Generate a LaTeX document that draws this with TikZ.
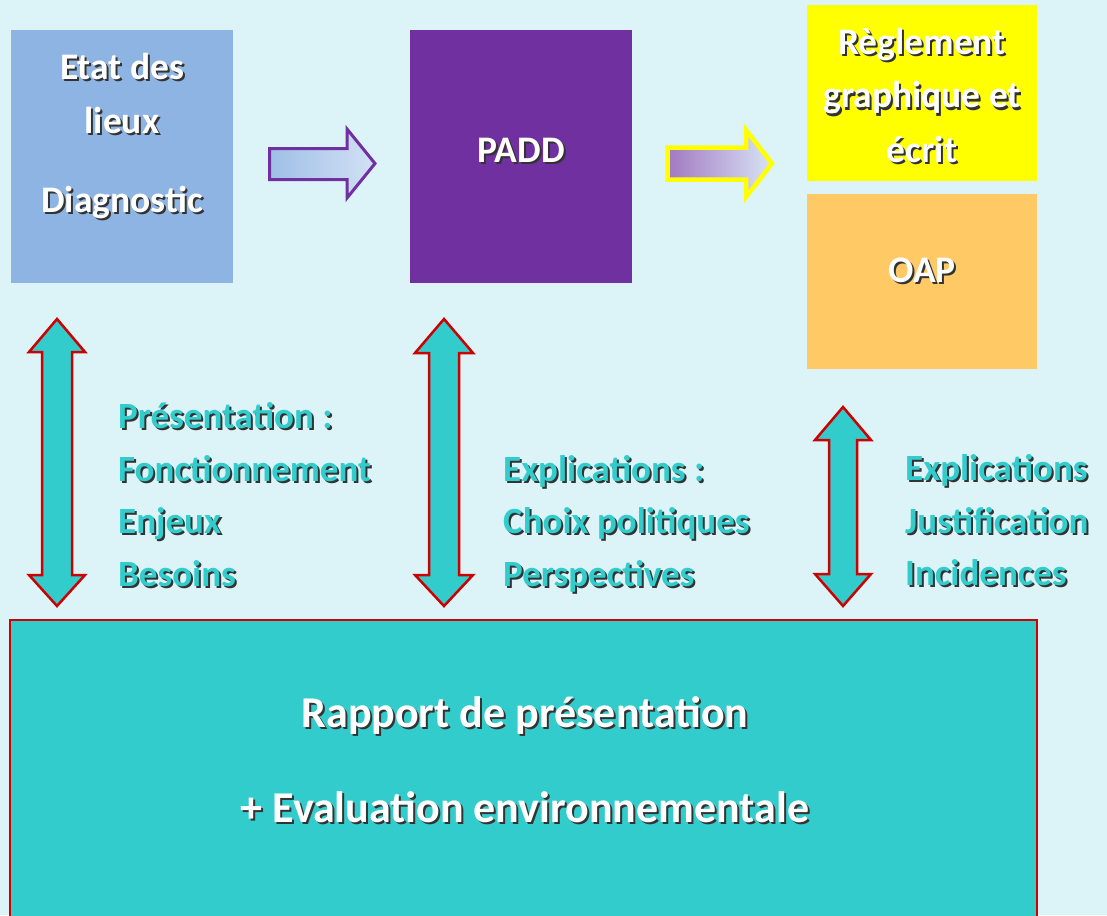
\documentclass[tikz,border=0pt]{standalone}
\usepackage{fontspec}
\setmainfont{Carlito}
\usetikzlibrary{shadings}
\definecolor{bgc}{HTML}{DCF4F8}
\definecolor{etatc}{HTML}{8EB4E3}
\definecolor{paddc}{HTML}{7030A0}
\definecolor{yelc}{HTML}{FFFF00}
\definecolor{oapc}{HTML}{FFC966}
\definecolor{tealc}{HTML}{33CCCC}
\definecolor{redc}{HTML}{CC0000}
\definecolor{shc}{HTML}{333333}
\newcommand\shd[2]{\makebox[0pt][l]{\hspace{2pt}\raisebox{-2pt}{\textcolor{shc}{#2}}}\textcolor{#1}{#2}}
\tikzset{
  blk/.style={rectangle, draw=none, inner sep=0pt, outer sep=0pt},
  wtxt/.style={inner sep=0pt, anchor=base, font=\bfseries\fontsize{37.5}{40}\selectfont},
  ltxt/.style={inner sep=0pt, anchor=base west, font=\bfseries\fontsize{37}{40}\selectfont},
  btxt/.style={inner sep=0pt, anchor=base, font=\bfseries\fontsize{44}{46}\selectfont},
  dbl/.style={fill=tealc, draw=redc, line width=2.5pt, line join=miter},
}
\begin{document}
\begin{tikzpicture}[x=1pt,y=-1pt]
\useasboundingbox (0,0) rectangle (1107,915);
\clip (0,0) rectangle (1107,915);
\fill[bgc] (0,0) rectangle (1107,915);

% boxes
\node[blk, fill=etatc, minimum width=222pt, minimum height=253pt] (etat) at (122,156.5) {};
\node[blk, fill=paddc, minimum width=222pt, minimum height=253pt] (padd) at (521,156.5) {};
\node[blk, fill=yelc, minimum width=230pt, minimum height=176pt] (regl) at (922,93) {};
\node[blk, fill=oapc, minimum width=230pt, minimum height=175pt] (oap) at (922,281.5) {};
\node[rectangle, fill=tealc, draw=redc, line width=2.5pt, minimum width=1027pt, minimum height=330pt, inner sep=0pt] (rapport) at (523.5,785) {};

% box texts
\node[wtxt] (t1) at (122,80) {\shd{white}{Etat des}};
\node[wtxt] (t2) at (122,133) {\shd{white}{lieux}};
\node[wtxt] (t3) at (122,212) {\shd{white}{Diagnostic}};
\node[wtxt] (t4) at (521,162) {\shd{white}{PADD}};
\node[wtxt] (t5) at (922,55) {\shd{white}{Règlement}};
\node[wtxt] (t6) at (922,108) {\shd{white}{graphique et}};
\node[wtxt] (t7) at (922,162) {\shd{white}{écrit}};
\node[wtxt] (t8) at (922,282) {\shd{white}{OAP}};
\node[btxt] (t9) at (525,727) {\shd{white}{Rapport de présentation}};
\node[btxt] (t10) at (525,822) {\shd{white}{+ Evaluation environnementale}};

% horizontal block arrows
\draw[line width=3pt, draw=paddc, line join=miter, left color=etatc!85!white, right color=etatc!40!white]
  (269.5,148.5) -- (347,148.5) -- (347,129) -- (375,163.5) -- (347,198) -- (347,179.5) -- (269.5,179.5) -- cycle;
\draw[line width=4.5pt, draw=yelc, line join=miter, shading=axis, shading angle=70, left color=paddc!65!white, right color=etatc!35!white]
  (667.5,147.5) -- (746,147.5) -- (746,130) -- (772,163.5) -- (746,197) -- (746,179.5) -- (667.5,179.5) -- cycle;

% vertical double arrows
\draw[dbl] (57,319) -- (85,352) -- (72,352) -- (72,575) -- (85,575) -- (57,606) -- (29,575) -- (42,575) -- (42,352) -- (29,352) -- cycle;
\draw[dbl] (444,319) -- (473,353) -- (459,353) -- (459,575) -- (473,575) -- (444,606) -- (415,575) -- (429,575) -- (429,353) -- (415,353) -- cycle;
\draw[dbl] (843,407) -- (871,440) -- (857,440) -- (857,574) -- (871,574) -- (843,606) -- (815,574) -- (829,574) -- (829,440) -- (815,440) -- cycle;

% labels
\node[ltxt] (l1) at (118,428) {\shd{tealc}{Présentation :}};
\node[ltxt] (l2) at (118,481) {\shd{tealc}{Fonctionnement}};
\node[ltxt] (l3) at (118,533) {\shd{tealc}{Enjeux}};
\node[ltxt] (l4) at (118,586) {\shd{tealc}{Besoins}};
\node[ltxt] (m1) at (503,481) {\shd{tealc}{Explications :}};
\node[ltxt] (m2) at (503,533) {\shd{tealc}{Choix politiques}};
\node[ltxt] (m3) at (503,586) {\shd{tealc}{Perspectives}};
\node[ltxt] (r1) at (905,480) {\shd{tealc}{Explications}};
\node[ltxt] (r2) at (905,533) {\shd{tealc}{Justification}};
\node[ltxt] (r3) at (905,585) {\shd{tealc}{Incidences}};
\end{tikzpicture}
\end{document}
